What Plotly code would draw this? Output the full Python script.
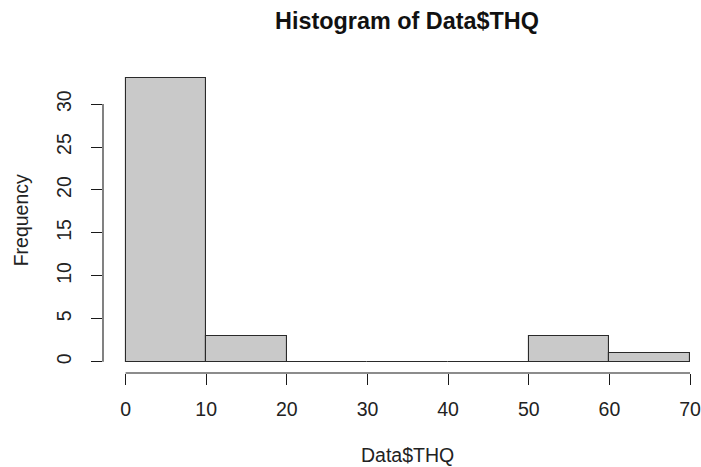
import plotly.graph_objects as go

bin_edges = [0, 10, 20, 30, 40, 50, 60, 70]
frequency = [33, 3, 0, 0, 0, 3, 1]
x_ticks = [0, 10, 20, 30, 40, 50, 60, 70]
y_ticks = [0, 5, 10, 15, 20, 25, 30]
title_text = "Histogram of Data$THQ"
x_label = "Data$THQ"
y_label = "Frequency"

centers = [(a + b) / 2 for a, b in zip(bin_edges[:-1], bin_edges[1:])]
widths = [b - a for a, b in zip(bin_edges[:-1], bin_edges[1:])]

W, H = 701, 467
L, R = 102.7, 701
T, B = 66.6, 372.7
FONT = "Liberation Sans, Arial, sans-serif"
AX = "#1a1a1a"
FS = 19.5

fig = go.Figure()
fig.add_trace(go.Bar(
    x=centers, y=frequency, width=widths,
    marker=dict(color="#c9c9c9", line=dict(color="#2a2a2a", width=1.1)),
    hoverinfo="x+y",
))

# R-style axis lines spanning only the tick range
fig.add_shape(type="line", xref="x", yref="paper", x0=x_ticks[0], x1=x_ticks[-1], y0=0, y1=0,
              line=dict(color=AX, width=1.1))
fig.add_shape(type="line", xref="paper", yref="y", x0=0, x1=0, y0=y_ticks[0], y1=y_ticks[-1],
              line=dict(color=AX, width=1.1))

xr_lo = -0.04 * (bin_edges[-1] - bin_edges[0])
ppu_x = (690 - 125) / 70.0
xr_hi = (R - 125) / ppu_x
ymax = max(frequency)
yr = [-0.04 * ymax, ymax * 1.04]

fig.update_layout(
    width=W, height=H,
    margin=dict(l=L, r=W - R, t=T, b=H - B, pad=0),
    paper_bgcolor="white", plot_bgcolor="white",
    showlegend=False, bargap=0,
    font=dict(family=FONT, size=FS, color="#222222"),
    title=dict(text="<b>" + title_text + "</b>", x=407 / W, xanchor="center",
               xref="container",
               y=1 - 21 / H, yanchor="middle", font=dict(size=FS * 1.2, family=FONT, color="#111111")),
    xaxis=dict(range=[xr_lo, xr_hi], tickvals=x_ticks, ticks="outside", ticklen=11,
               tickcolor=AX, tickwidth=1.1, showline=False, showgrid=False, zeroline=False,
               tickfont=dict(size=FS), ticklabelstandoff=8, ticklabeloverflow="allow",
               fixedrange=True),
    yaxis=dict(range=yr, tickvals=y_ticks, ticks="outside", ticklen=11, tickangle=-90,
               tickcolor=AX, tickwidth=1.1, showline=False, showgrid=False, zeroline=False,
               tickfont=dict(size=FS), ticklabelstandoff=12, ticklabeloverflow="allow",
               fixedrange=True),
    annotations=[
        dict(text=y_label, xref="paper", yref="paper", x=(21 - L) / (R - L), y=0.5,
             textangle=-90, showarrow=False, xanchor="center", yanchor="middle",
             font=dict(size=FS, family=FONT, color="#222222")),
        dict(text=x_label, xref="paper", yref="paper", x=(407 - L) / (R - L),
             y=(B - 455) / (B - T), showarrow=False, xanchor="center", yanchor="middle",
             font=dict(size=FS, family=FONT, color="#222222")),
    ],
)

fig.write_html("out.html", config={"displayModeBar": False},
               post_script="document.body.style.margin='0';document.body.style.overflow='hidden';")
